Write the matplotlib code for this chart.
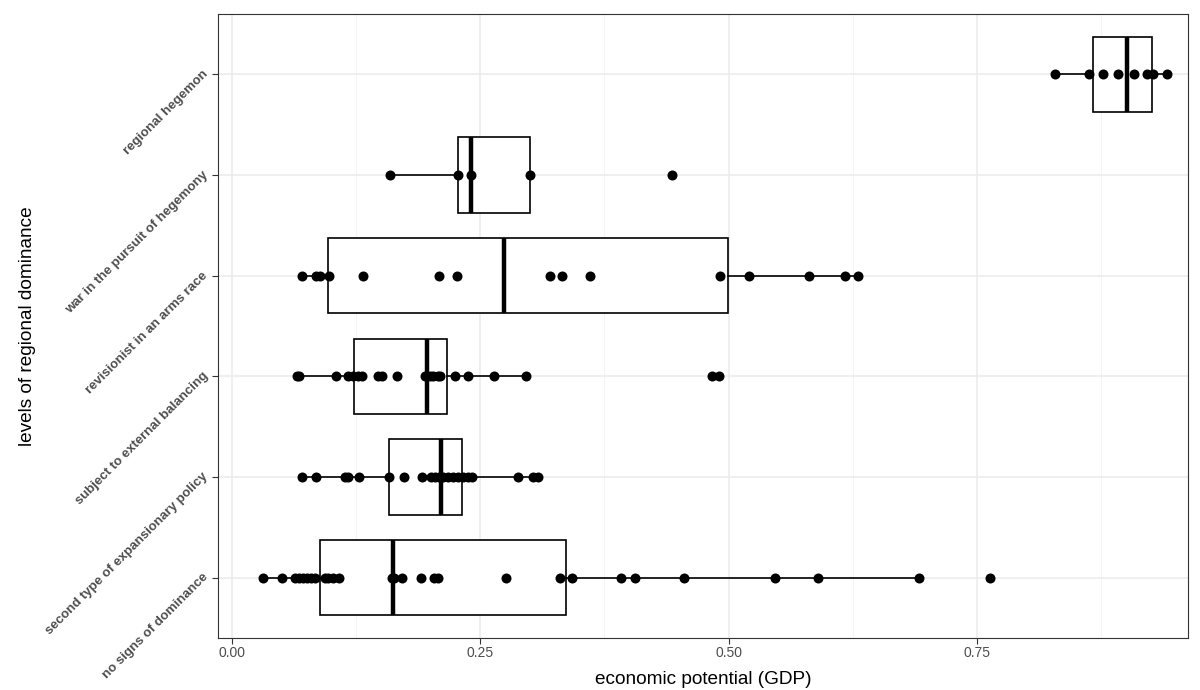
import numpy as np
import matplotlib.pyplot as plt

plt.rcParams['font.family'] = ['Liberation Sans', 'DejaVu Sans']

# categories, bottom to top
categories = ['no signs of dominance', 'second type of expansionary policy',
              'subject to external balancing', 'revisionist in an arms race',
              'war in the pursuit of hegemony', 'regional hegemon']

# GDP values per category
gdp_no_signs = [0.0315, 0.0500, 0.0634, 0.0678, 0.0718, 0.0752, 0.0792, 0.0836,
                0.0936, 0.0970, 0.1020, 0.1077, 0.1608, 0.1631, 0.1715, 0.1903,
                0.2037, 0.2077, 0.2755, 0.3302, 0.3420, 0.3916, 0.4057, 0.4554,
                0.5467, 0.5896, 0.6916, 0.7631]
gdp_second = [0.0701, 0.0846, 0.1138, 0.1171, 0.1282, 0.1581, 0.1732, 0.1910,
              0.2000, 0.2044, 0.2087, 0.2128, 0.2178, 0.2228, 0.2279, 0.2329,
              0.2379, 0.2414, 0.2883, 0.3028, 0.3078]
gdp_subject = [0.0658, 0.0678, 0.1044, 0.1171, 0.1221, 0.1272, 0.1306, 0.1473,
               0.1506, 0.1657, 0.1943, 0.1993, 0.2027, 0.2077, 0.2094, 0.2245,
               0.2373, 0.2638, 0.2957, 0.4829, 0.4903]
gdp_revisionist = [0.0708, 0.0846, 0.0886, 0.0977, 0.1316, 0.2087, 0.2268,
                   0.3201, 0.3319, 0.3604, 0.4913, 0.5208, 0.5812, 0.6171, 0.6299]
gdp_war = [0.1591, 0.2278, 0.2406, 0.3000, 0.4427]
gdp_hegemon = [0.8286, 0.8627, 0.8765, 0.8922, 0.9083, 0.9208, 0.9275, 0.9410]

# box statistics
box_whislo = [0.0315, 0.0701, 0.0678, 0.0708, 0.1591, 0.8286]
box_q1 = [0.0886, 0.1581, 0.1232, 0.0970, 0.2278, 0.8671]
box_med = [0.1624, 0.2101, 0.1960, 0.2738, 0.2406, 0.9007]
box_q3 = [0.3363, 0.2312, 0.2168, 0.4990, 0.3000, 0.9259]
box_whishi = [0.6916, 0.3078, 0.2957, 0.6299, 0.3000, 0.9410]

all_gdp = [gdp_no_signs, gdp_second, gdp_subject, gdp_revisionist, gdp_war, gdp_hegemon]

fig = plt.figure(figsize=(12, 6.9), dpi=100)
ax = fig.add_axes([0.1817, 0.0754, 0.8083, 0.9043])

stats = []
for i in range(len(categories)):
    stats.append(dict(whislo=box_whislo[i], q1=box_q1[i], med=box_med[i],
                      q3=box_q3[i], whishi=box_whishi[i], fliers=[]))

pos = np.arange(1, len(categories) + 1)
ax.bxp(stats, positions=pos, vert=False, widths=0.75, showcaps=False,
       patch_artist=True,
       boxprops=dict(facecolor='white', edgecolor='black', linewidth=1.2),
       whiskerprops=dict(color='black', linewidth=1.2),
       medianprops=dict(color='black', linewidth=3.2),
       zorder=3)

for i, vals in enumerate(all_gdp):
    ax.scatter(vals, np.full(len(vals), pos[i]), s=52, color='black',
               linewidths=0, zorder=4)

ax.set_xlim(-0.0141, 0.9625)
ax.set_ylim(0.4, len(categories) + 0.6)

ax.set_xticks([0, 0.25, 0.5, 0.75])
ax.set_xticklabels(['0.00', '0.25', '0.50', '0.75'], fontsize=10, color='#4d4d4d')
ax.set_xticks([0.125, 0.375, 0.625, 0.875], minor=True)
ax.set_yticks(pos)
ax.set_yticklabels(categories, rotation=45, rotation_mode='anchor', ha='right',
                   va='baseline', fontsize=9.5, fontweight='bold', color='#4d4d4d')

ax.grid(which='major', color='#ebebeb', linewidth=1.1, zorder=0)
ax.grid(which='minor', axis='x', color='#f3f3f3', linewidth=0.6, zorder=0)
ax.set_axisbelow(True)
ax.tick_params(which='major', length=4, color='#333333', width=0.8, pad=3)
ax.tick_params(axis='x', which='major', pad=2)
ax.tick_params(which='minor', length=0)
for sp in ax.spines.values():
    sp.set_color('#333333')
    sp.set_linewidth(0.8)

ax.set_xlabel('economic potential (GDP)', fontsize=13.7, labelpad=8)
ax.set_ylabel('levels of regional dominance', fontsize=13.7)
ax.yaxis.set_label_coords(-0.1876, 0.5)

fig.savefig('out.png', dpi=100)
